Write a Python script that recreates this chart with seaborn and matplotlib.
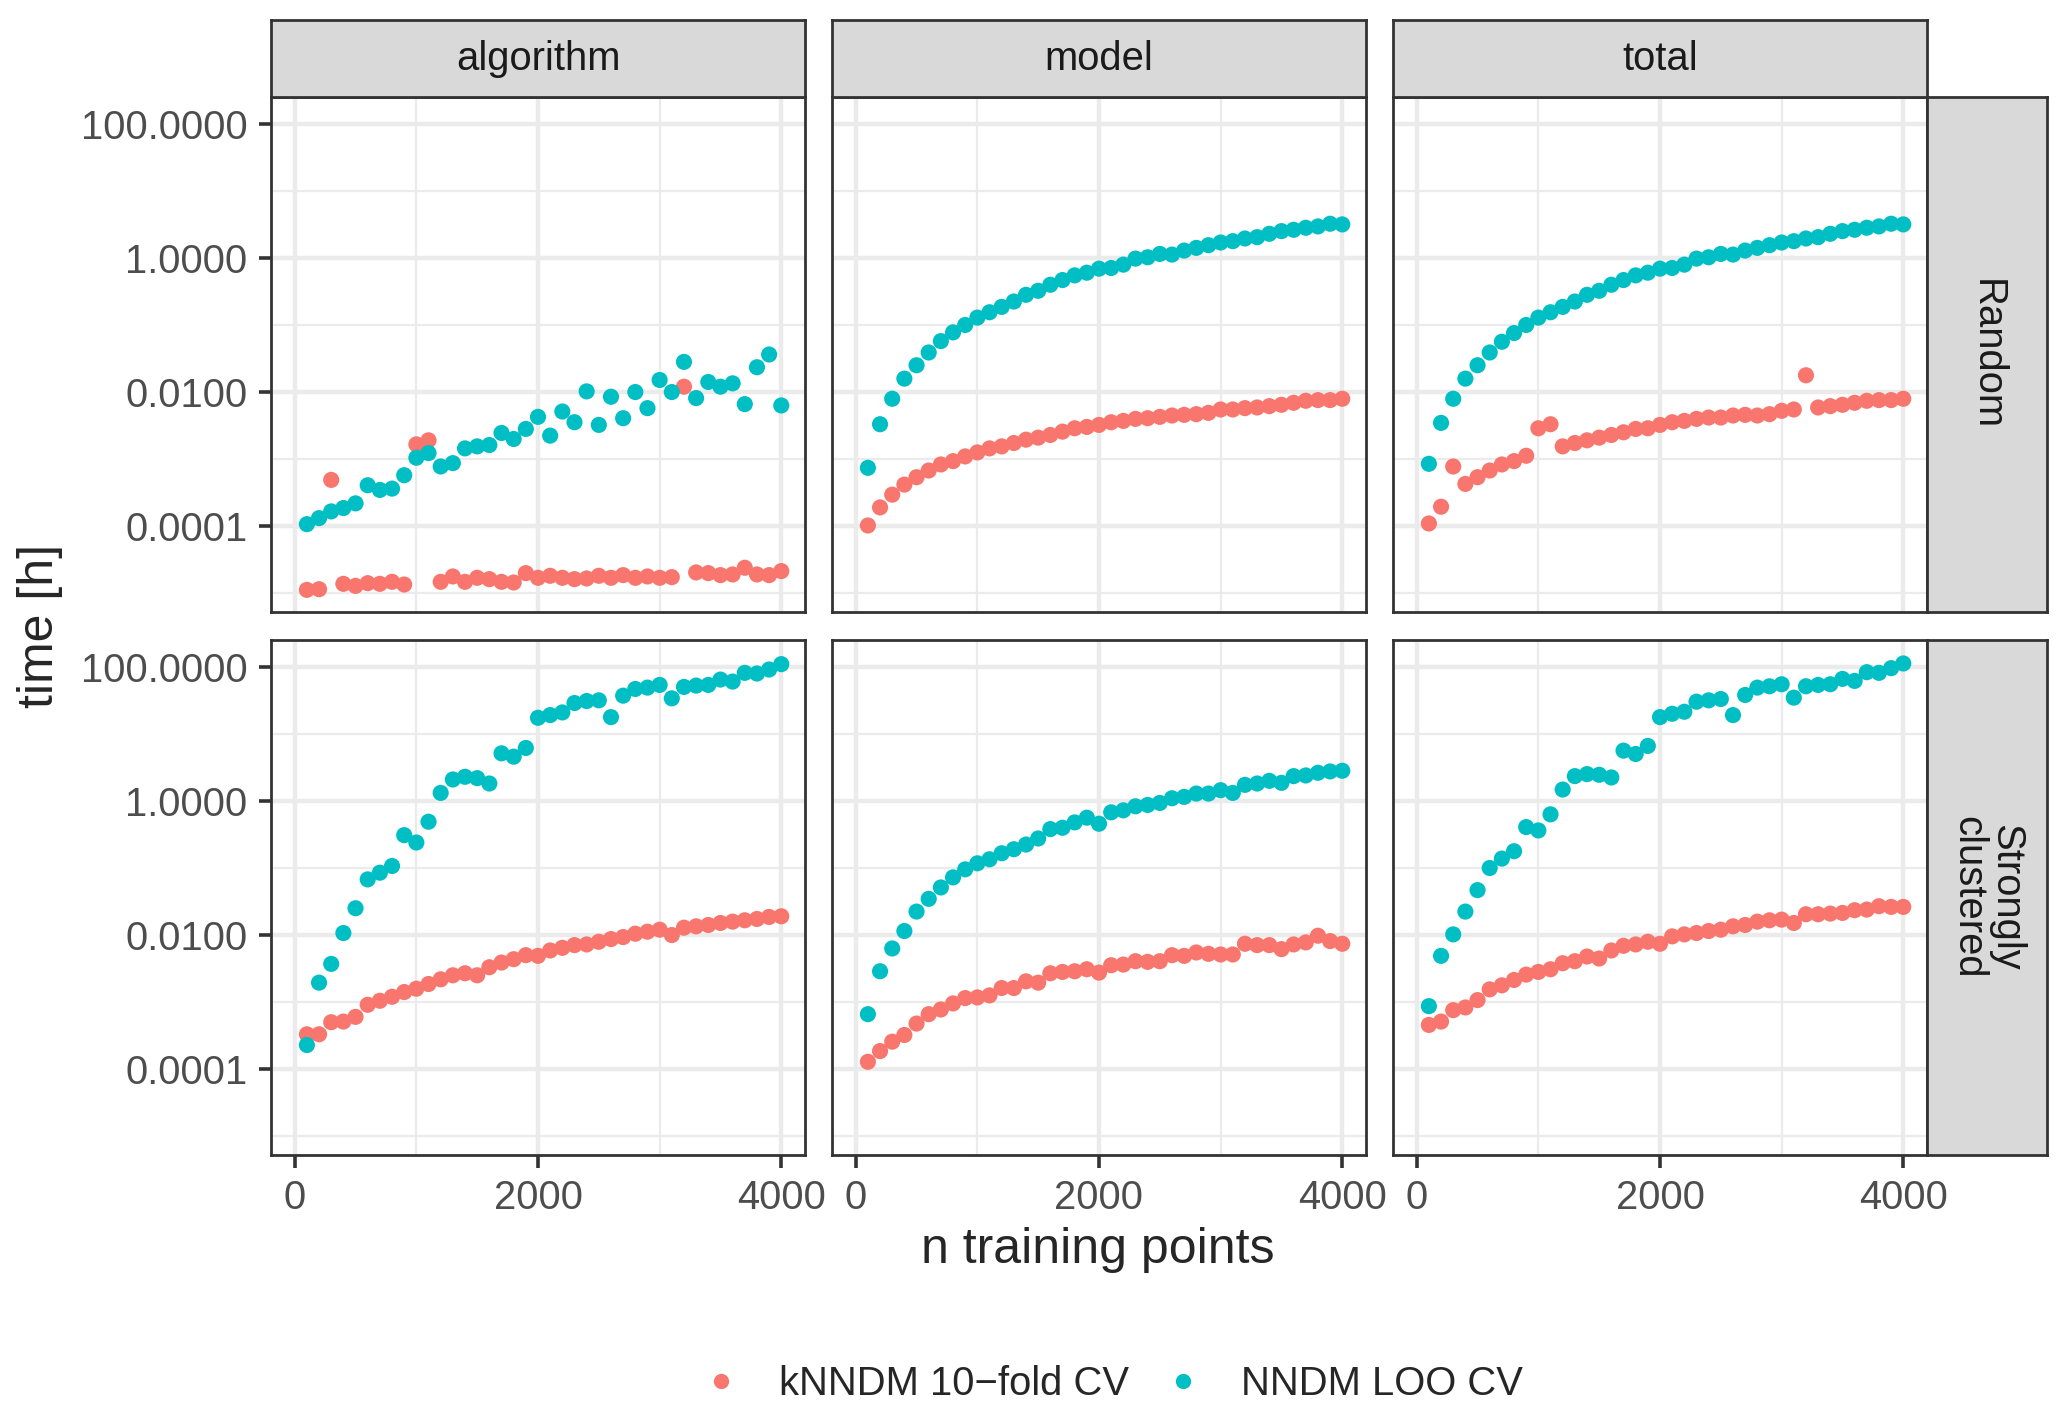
import numpy as np
import pandas as pd
import seaborn as sns
import matplotlib.pyplot as plt
from matplotlib.lines import Line2D

sns.set_theme(style="white")
plt.rcParams['font.family'] = ['Liberation Sans', 'DejaVu Sans']

# =========================================================
# DATA  (time in hours, stored as log10 values)
# =========================================================
n_points = list(range(100, 4100, 100))

components = ["algorithm", "model", "total"]
scenarios = ["Random", "Strongly clustered"]
methods = ["kNNDM 10\u2212fold CV", "NNDM LOO CV"]
method_colors = ["#F8766D", "#00BFC4"]

y_ticks = [1e-4, 1e-2, 1, 100]
y_tick_labels = ["0.0001", "0.0100", "1.0000", "100.0000"]
x_ticks = [0, 2000, 4000]

random_algorithm_knndm = [-4.95, -4.94, -3.31, -4.86, -4.89, -4.85, -4.86, -4.83, -4.87, -2.78,
                          -2.72, -4.83, -4.75, -4.83, -4.77, -4.79, -4.83, -4.84, -4.70, -4.77,
                          -4.74, -4.77, -4.79, -4.78, -4.74, -4.77, -4.73, -4.77, -4.75, -4.77,
                          -4.76, -1.92, -4.69, -4.70, -4.73, -4.72, -4.62, -4.72, -4.73, -4.67]
random_algorithm_nndm = [-3.97, -3.88, -3.78, -3.73, -3.66, -3.39, -3.46, -3.44, -3.24, -2.98,
                         -2.91, -3.11, -3.06, -2.84, -2.81, -2.79, -2.61, -2.70, -2.55, -2.37,
                         -2.65, -2.29, -2.45, -1.99, -2.49, -2.07, -2.39, -2.00, -2.24, -1.82,
                         -2.00, -1.55, -2.09, -1.85, -1.92, -1.87, -2.18, -1.63, -1.44, -2.20]

random_model_knndm = [-3.99, -3.72, -3.53, -3.38, -3.27, -3.17, -3.08, -3.03, -2.96, -2.90,
                      -2.84, -2.81, -2.76, -2.71, -2.68, -2.64, -2.59, -2.54, -2.52, -2.49,
                      -2.45, -2.43, -2.40, -2.39, -2.37, -2.35, -2.34, -2.33, -2.31, -2.26,
                      -2.26, -2.24, -2.23, -2.21, -2.19, -2.16, -2.13, -2.12, -2.12, -2.10]
random_model_nndm = [-3.13, -2.48, -2.10, -1.80, -1.60, -1.41, -1.24, -1.11, -1.00, -0.89,
                     -0.81, -0.73, -0.65, -0.55, -0.49, -0.40, -0.33, -0.26, -0.22, -0.16,
                     -0.15, -0.10, -0.01, 0.01, 0.06, 0.05, 0.11, 0.15, 0.19, 0.23,
                     0.25, 0.29, 0.31, 0.36, 0.40, 0.42, 0.45, 0.47, 0.51, 0.50]

random_total_knndm = [-3.96, -3.71, -3.11, -3.37, -3.27, -3.17, -3.08, -3.03, -2.95, -2.54,
                      -2.48, -2.81, -2.76, -2.72, -2.68, -2.64, -2.60, -2.55, -2.54, -2.49,
                      -2.45, -2.43, -2.40, -2.38, -2.38, -2.35, -2.34, -2.35, -2.33, -2.28,
                      -2.26, -1.75, -2.23, -2.21, -2.19, -2.16, -2.13, -2.12, -2.12, -2.10]
random_total_nndm = [-3.07, -2.46, -2.10, -1.80, -1.60, -1.41, -1.25, -1.12, -1.00, -0.89,
                     -0.81, -0.73, -0.65, -0.55, -0.49, -0.40, -0.33, -0.26, -0.22, -0.16,
                     -0.15, -0.10, -0.01, 0.01, 0.06, 0.05, 0.11, 0.15, 0.19, 0.23,
                     0.25, 0.29, 0.31, 0.36, 0.40, 0.42, 0.45, 0.47, 0.51, 0.50]

clustered_algorithm_knndm = [-3.48, -3.48, -3.30, -3.29, -3.22, -3.04, -2.98, -2.92, -2.85, -2.80,
                             -2.73, -2.66, -2.60, -2.57, -2.60, -2.48, -2.41, -2.36, -2.30, -2.31,
                             -2.23, -2.19, -2.15, -2.14, -2.10, -2.06, -2.03, -1.98, -1.95, -1.92,
                             -2.00, -1.89, -1.87, -1.85, -1.82, -1.80, -1.78, -1.76, -1.73, -1.72]
clustered_algorithm_nndm = [-3.64, -2.71, -2.43, -1.97, -1.60, -1.17, -1.07, -0.97, -0.51, -0.62,
                            -0.31, 0.12, 0.32, 0.36, 0.34, 0.26, 0.71, 0.66, 0.79, 1.24,
                            1.28, 1.32, 1.46, 1.49, 1.50, 1.25, 1.57, 1.67, 1.69, 1.73,
                            1.53, 1.70, 1.72, 1.73, 1.81, 1.78, 1.91, 1.90, 1.96, 2.04]

clustered_model_knndm = [-3.89, -3.73, -3.59, -3.49, -3.32, -3.18, -3.11, -3.02, -2.94, -2.93,
                         -2.90, -2.79, -2.79, -2.69, -2.71, -2.57, -2.55, -2.54, -2.51, -2.56,
                         -2.45, -2.44, -2.39, -2.40, -2.39, -2.30, -2.31, -2.26, -2.28, -2.29,
                         -2.29, -2.13, -2.15, -2.15, -2.21, -2.14, -2.11, -2.01, -2.09, -2.13]
clustered_model_nndm = [-3.18, -2.54, -2.20, -1.94, -1.65, -1.46, -1.29, -1.14, -1.02, -0.93,
                        -0.87, -0.78, -0.72, -0.65, -0.56, -0.42, -0.40, -0.32, -0.25, -0.34,
                        -0.17, -0.14, -0.08, -0.06, -0.03, 0.04, 0.06, 0.11, 0.11, 0.16,
                        0.12, 0.24, 0.26, 0.30, 0.27, 0.37, 0.38, 0.42, 0.44, 0.45]

clustered_total_knndm = [-3.34, -3.29, -3.12, -3.08, -2.97, -2.81, -2.75, -2.67, -2.59, -2.55,
                         -2.51, -2.42, -2.39, -2.32, -2.35, -2.23, -2.16, -2.14, -2.10, -2.13,
                         -2.02, -1.99, -1.97, -1.94, -1.92, -1.87, -1.85, -1.80, -1.78, -1.77,
                         -1.82, -1.69, -1.69, -1.68, -1.67, -1.63, -1.62, -1.57, -1.58, -1.58]
clustered_total_nndm = [-3.06, -2.31, -1.99, -1.65, -1.33, -1.00, -0.86, -0.75, -0.39, -0.44,
                        -0.20, 0.17, 0.37, 0.40, 0.39, 0.35, 0.75, 0.70, 0.82, 1.25,
                        1.30, 1.33, 1.48, 1.50, 1.52, 1.28, 1.58, 1.69, 1.71, 1.74,
                        1.54, 1.71, 1.73, 1.74, 1.82, 1.79, 1.92, 1.91, 1.98, 2.05]

series = {
    ("Random", "algorithm"): (random_algorithm_knndm, random_algorithm_nndm),
    ("Random", "model"): (random_model_knndm, random_model_nndm),
    ("Random", "total"): (random_total_knndm, random_total_nndm),
    ("Strongly clustered", "algorithm"): (clustered_algorithm_knndm, clustered_algorithm_nndm),
    ("Strongly clustered", "model"): (clustered_model_knndm, clustered_model_nndm),
    ("Strongly clustered", "total"): (clustered_total_knndm, clustered_total_nndm),
}

rows = []
for (scen, comp), pair in series.items():
    for meth, vals in zip(methods, pair):
        for n, v in zip(n_points, vals):
            rows.append({"scenario": scen, "component": comp, "method": meth,
                         "n": n, "time": 10 ** v})
df = pd.DataFrame(rows)

# =========================================================
# LAYOUT (ggplot facet_grid look)
# =========================================================
W, H = 2067, 1416
fig = plt.figure(figsize=(W / 100, H / 100), dpi=100)

col_left = [271, 832, 1393]
panel_w = 534
row_top = [97, 640]
panel_h = 515
strip_top, strip_h = 20, 77
rstrip_w = 120

border = "#333333"
fs = 28.8

for r, scen in enumerate(scenarios):
    for c, comp in enumerate(components):
        left, top = col_left[c], row_top[r]
        ax = fig.add_axes([left / W, 1 - (top + panel_h) / H, panel_w / W, panel_h / H])
        sub = df[(df.scenario == scen) & (df.component == comp)]
        sns.scatterplot(data=sub, x="n", y="time", hue="method", hue_order=methods,
                        palette=method_colors, s=135, linewidth=0, legend=False, ax=ax)
        ax.set_yscale("log")
        ax.set_ylim(10 ** -5.28, 10 ** 2.4)
        ax.set_xlim(-195, 4195)
        ax.set_xticks(x_ticks)
        ax.set_xticks([1000, 3000], minor=True)
        ax.set_yticks(y_ticks)
        ax.set_yticks([1e-5, 1e-3, 1e-1, 10], minor=True)
        ax.set_yticklabels(y_tick_labels if c == 0 else [])
        ax.set_xticklabels([str(t) for t in x_ticks] if r == 1 else [])
        ax.set_xticklabels([], minor=True)
        ax.set_yticklabels([], minor=True)
        ax.grid(which="major", color="#EBEBEB", linewidth=3.2)
        ax.grid(which="minor", color="#EBEBEB", linewidth=1.6)
        ax.set_axisbelow(True)
        ax.tick_params(which="major", length=9, width=2.6, color=border,
                       labelcolor="#4D4D4D", labelsize=fs, pad=8,
                       left=(c == 0), bottom=(r == 1))
        ax.tick_params(which="minor", length=0)
        for sp in ax.spines.values():
            sp.set_color(border)
            sp.set_linewidth(2)
        ax.set_xlabel("")
        ax.set_ylabel("")

        # top strips
        if r == 0:
            sax = fig.add_axes([left / W, 1 - (strip_top + strip_h) / H, panel_w / W, strip_h / H])
            sax.set_facecolor("#D9D9D9")
            sax.set_xticks([])
            sax.set_yticks([])
            for sp in sax.spines.values():
                sp.set_color(border)
                sp.set_linewidth(2)
            sax.text(0.5, 0.5, comp, ha="center", va="center", fontsize=fs, color="#1A1A1A")

    # right strips
    rleft = col_left[2] + panel_w
    top = row_top[r]
    rax = fig.add_axes([rleft / W, 1 - (top + panel_h) / H, rstrip_w / W, panel_h / H])
    rax.set_facecolor("#D9D9D9")
    rax.set_xticks([])
    rax.set_yticks([])
    for sp in rax.spines.values():
        sp.set_color(border)
        sp.set_linewidth(2)
    label = "Strongly\nclustered" if scen == "Strongly clustered" else scen
    rax.text(0.5, 0.5, label, ha="center", va="center", rotation=270, fontsize=fs,
             color="#1A1A1A", linespacing=1.0)

fig.text(1098 / W, 1 - 1250 / H, "n training points", ha="center", va="center", fontsize=36)
fig.text(40 / W, 1 - 626 / H, "time [h]", ha="center", va="center", rotation=90, fontsize=36)

handles = [Line2D([0], [0], marker="o", linestyle="", markersize=11,
                  markerfacecolor=col, markeredgewidth=0) for col in method_colors]
fig.legend(handles, methods, loc="center", bbox_to_anchor=(1112 / W, 1 - 1384 / H),
           ncol=2, frameon=False, fontsize=fs, handlelength=1.0, handletextpad=0.95,
           columnspacing=0.85)

fig.savefig("out.png", dpi=100)
